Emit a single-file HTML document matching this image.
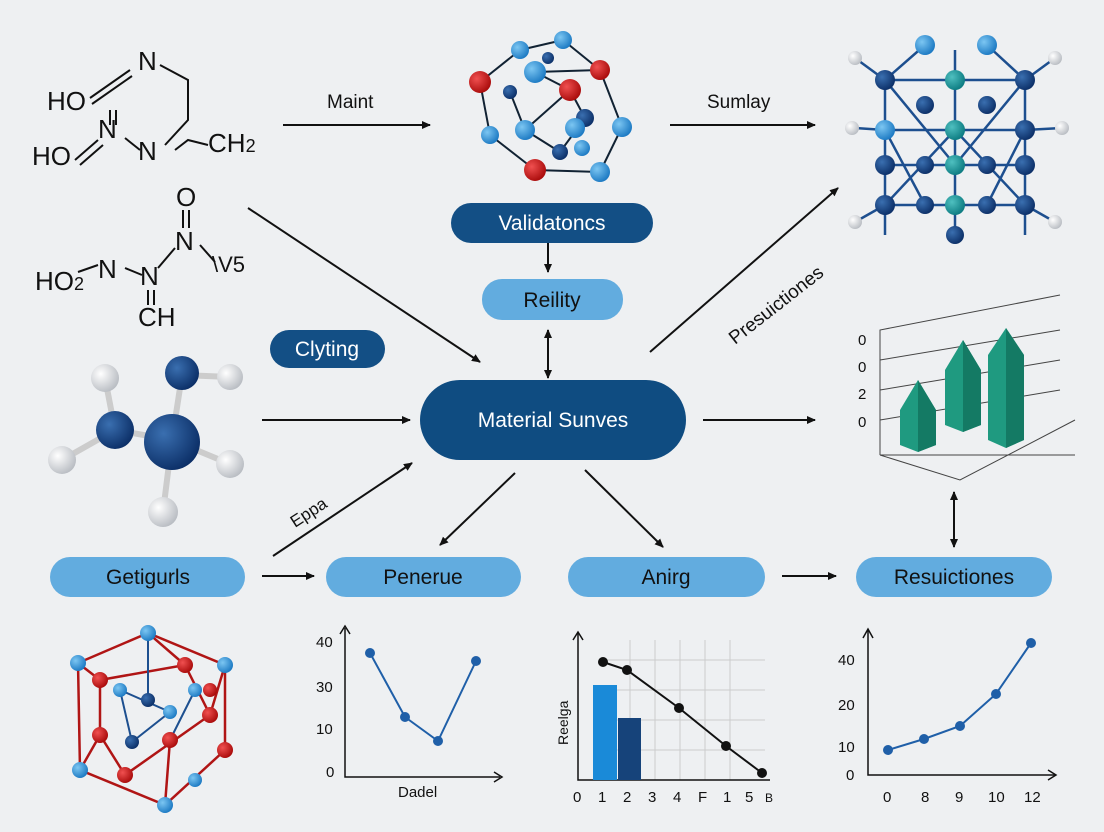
<!DOCTYPE html>
<html><head><meta charset="utf-8"><style>
html,body{margin:0;padding:0;width:1104px;height:832px;overflow:hidden;background:#eef0f2}
text{font-family:"Liberation Sans",sans-serif}
</style></head><body>
<svg width="1104" height="832" viewBox="0 0 1104 832" xmlns="http://www.w3.org/2000/svg">
<defs>
<radialGradient id="db" cx="35%" cy="35%" r="70%"><stop offset="0" stop-color="#3a6fb0"/><stop offset="1" stop-color="#0b2e66"/></radialGradient>
<radialGradient id="lb" cx="35%" cy="35%" r="70%"><stop offset="0" stop-color="#7cc6f2"/><stop offset="1" stop-color="#1a78c2"/></radialGradient>
<radialGradient id="rd" cx="35%" cy="35%" r="70%"><stop offset="0" stop-color="#f05050"/><stop offset="1" stop-color="#a80a0a"/></radialGradient>
<radialGradient id="wh" cx="35%" cy="35%" r="70%"><stop offset="0" stop-color="#ffffff"/><stop offset="1" stop-color="#b8bcc2"/></radialGradient>
<radialGradient id="tl" cx="35%" cy="35%" r="70%"><stop offset="0" stop-color="#4fc0c0"/><stop offset="1" stop-color="#0b7a80"/></radialGradient>
<marker id="ah" markerWidth="10" markerHeight="10" refX="8" refY="5" orient="auto" markerUnits="userSpaceOnUse"><path d="M0,1 L9,5 L0,9 z" fill="#111"/></marker>
<marker id="as" markerWidth="10" markerHeight="10" refX="2" refY="5" orient="auto" markerUnits="userSpaceOnUse"><path d="M10,1 L1,5 L10,9 z" fill="#111"/></marker>
</defs>
<rect width="1104" height="832" fill="#eef0f2"/>

<g stroke="#111" stroke-width="2" fill="none">
<path d="M90,98 L130,70 M92,104 L132,76"/>
<path d="M160,65 L188,80 L188,120 L165,145"/>
<path d="M110,110 L110,125 M116,110 L116,125"/>
<path d="M75,160 L98,140 M80,165 L103,145"/>
<path d="M125,138 L140,150"/>
<path d="M175,150 L188,140 L208,145"/>
<path d="M183,210 L183,228 M189,210 L189,228"/>
<path d="M175,248 L158,268"/>
<path d="M78,272 L98,265"/>
<path d="M125,268 L142,275"/>
<path d="M200,245 L215,262"/>
<path d="M148,290 L148,305 M154,290 L154,305"/>
</g>
<g font-size="26" fill="#111">
<text x="47" y="110">HO</text><text x="138" y="70">N</text><text x="98" y="138">N</text>
<text x="32" y="165">HO</text><text x="138" y="160">N</text><text x="208" y="152">CH<tspan font-size="18">2</tspan></text>
<text x="176" y="206">O</text><text x="175" y="250">N</text><text x="98" y="278">N</text>
<text x="35" y="290">HO<tspan font-size="18">2</tspan></text><text x="140" y="285">N</text>
<text x="212" y="272" font-size="22">\V5</text><text x="138" y="326">CH</text>
</g>

<g stroke="#ccc" stroke-width="6">
<line x1="115" y1="430" x2="172" y2="440"/><line x1="115" y1="430" x2="105" y2="378"/><line x1="115" y1="430" x2="62" y2="460"/>
<line x1="172" y1="440" x2="182" y2="375"/><line x1="172" y1="440" x2="230" y2="464"/><line x1="172" y1="440" x2="163" y2="512"/><line x1="182" y1="375" x2="230" y2="377"/>
</g>
<circle cx="105" cy="378" r="14" fill="url(#wh)"/><circle cx="62" cy="460" r="14" fill="url(#wh)"/><circle cx="230" cy="377" r="13" fill="url(#wh)"/><circle cx="230" cy="464" r="14" fill="url(#wh)"/><circle cx="163" cy="512" r="15" fill="url(#wh)"/>
<circle cx="115" cy="430" r="19" fill="url(#db)"/><circle cx="182" cy="373" r="17" fill="url(#db)"/><circle cx="172" cy="442" r="28" fill="url(#db)"/>

<g stroke="#123" stroke-width="2">
<line x1="480" y1="82" x2="520" y2="50"/><line x1="520" y1="50" x2="563" y2="40"/><line x1="563" y1="40" x2="600" y2="70"/><line x1="600" y1="70" x2="622" y2="127"/>
<line x1="480" y1="82" x2="490" y2="135"/><line x1="490" y1="135" x2="535" y2="170"/><line x1="535" y1="170" x2="600" y2="172"/><line x1="600" y1="172" x2="622" y2="127"/>
<line x1="535" y1="72" x2="570" y2="90"/><line x1="570" y1="90" x2="585" y2="118"/><line x1="525" y1="130" x2="570" y2="90"/><line x1="510" y1="92" x2="525" y2="130"/>
<line x1="535" y1="72" x2="600" y2="70"/><line x1="560" y1="152" x2="585" y2="118"/><line x1="525" y1="130" x2="560" y2="152"/></g>
<g>
<circle cx="520" cy="50" r="9" fill="url(#lb)"/><circle cx="563" cy="40" r="9" fill="url(#lb)"/><circle cx="600" cy="70" r="10" fill="url(#rd)"/><circle cx="622" cy="127" r="10" fill="url(#lb)"/>
<circle cx="480" cy="82" r="11" fill="url(#rd)"/><circle cx="490" cy="135" r="9" fill="url(#lb)"/><circle cx="535" cy="170" r="11" fill="url(#rd)"/><circle cx="600" cy="172" r="10" fill="url(#lb)"/>
<circle cx="535" cy="72" r="11" fill="url(#lb)"/><circle cx="570" cy="90" r="11" fill="url(#rd)"/><circle cx="585" cy="118" r="9" fill="url(#db)"/><circle cx="525" cy="130" r="10" fill="url(#lb)"/>
<circle cx="510" cy="92" r="7" fill="url(#db)"/><circle cx="560" cy="152" r="8" fill="url(#db)"/><circle cx="582" cy="148" r="8" fill="url(#lb)"/><circle cx="548" cy="58" r="6" fill="url(#db)"/><circle cx="575" cy="128" r="10" fill="url(#lb)"/>
</g>

<g stroke="#1d4f8f" stroke-width="2.5">
<line x1="885" y1="80" x2="1025" y2="80"/><line x1="885" y1="130" x2="1025" y2="130"/><line x1="885" y1="165" x2="1025" y2="165"/><line x1="885" y1="205" x2="1025" y2="205"/>
<line x1="885" y1="80" x2="885" y2="235"/><line x1="955" y1="50" x2="955" y2="235"/><line x1="1025" y1="80" x2="1025" y2="235"/>
<line x1="885" y1="80" x2="955" y2="165"/><line x1="1025" y1="80" x2="955" y2="165"/><line x1="885" y1="205" x2="955" y2="130"/><line x1="1025" y1="205" x2="955" y2="130"/>
<line x1="925" y1="45" x2="885" y2="80"/><line x1="987" y1="45" x2="1025" y2="80"/><line x1="885" y1="130" x2="925" y2="205"/><line x1="1025" y1="130" x2="987" y2="205"/>
<line x1="855" y1="58" x2="885" y2="80"/><line x1="1055" y1="58" x2="1025" y2="80"/><line x1="855" y1="128" x2="885" y2="130"/><line x1="1062" y1="128" x2="1025" y2="130"/><line x1="855" y1="222" x2="885" y2="205"/><line x1="1055" y1="222" x2="1025" y2="205"/>
</g>
<g>
<circle cx="855" cy="58" r="7" fill="url(#wh)"/><circle cx="1055" cy="58" r="7" fill="url(#wh)"/><circle cx="852" cy="128" r="7" fill="url(#wh)"/><circle cx="1062" cy="128" r="7" fill="url(#wh)"/><circle cx="855" cy="222" r="7" fill="url(#wh)"/><circle cx="1055" cy="222" r="7" fill="url(#wh)"/>
<circle cx="925" cy="45" r="10" fill="url(#lb)"/><circle cx="987" cy="45" r="10" fill="url(#lb)"/>
<circle cx="885" cy="80" r="10" fill="url(#db)"/><circle cx="955" cy="80" r="10" fill="url(#tl)"/><circle cx="1025" cy="80" r="10" fill="url(#db)"/>
<circle cx="885" cy="130" r="10" fill="url(#lb)"/><circle cx="925" cy="105" r="9" fill="url(#db)"/><circle cx="955" cy="130" r="10" fill="url(#tl)"/><circle cx="987" cy="105" r="9" fill="url(#db)"/><circle cx="1025" cy="130" r="10" fill="url(#db)"/>
<circle cx="885" cy="165" r="10" fill="url(#db)"/><circle cx="925" cy="165" r="9" fill="url(#db)"/><circle cx="955" cy="165" r="10" fill="url(#tl)"/><circle cx="987" cy="165" r="9" fill="url(#db)"/><circle cx="1025" cy="165" r="10" fill="url(#db)"/>
<circle cx="885" cy="205" r="10" fill="url(#db)"/><circle cx="925" cy="205" r="9" fill="url(#db)"/><circle cx="955" cy="205" r="10" fill="url(#tl)"/><circle cx="987" cy="205" r="9" fill="url(#db)"/><circle cx="1025" cy="205" r="10" fill="url(#db)"/>
<circle cx="955" cy="235" r="9" fill="url(#db)"/>
</g>

<g stroke="#111" stroke-width="2" fill="none" marker-end="url(#ah)">
<line x1="283" y1="125" x2="430" y2="125"/><line x1="670" y1="125" x2="815" y2="125"/>
<line x1="248" y1="208" x2="480" y2="362"/><line x1="262" y1="420" x2="410" y2="420"/><line x1="703" y1="420" x2="815" y2="420"/>
<line x1="650" y1="352" x2="838" y2="188"/><line x1="273" y1="556" x2="412" y2="463"/>
<line x1="515" y1="473" x2="440" y2="545"/><line x1="585" y1="470" x2="663" y2="547"/>
<line x1="262" y1="576" x2="314" y2="576"/><line x1="782" y1="576" x2="836" y2="576"/>
<line x1="548" y1="243" x2="548" y2="272"/>
<line x1="548" y1="330" x2="548" y2="378" marker-start="url(#as)"/>
<line x1="954" y1="492" x2="954" y2="547" marker-start="url(#as)"/>
</g>
<g font-size="19" fill="#111">
<text x="327" y="108">Maint</text><text x="707" y="108">Sumlay</text>
<text transform="translate(735,345) rotate(-38)">Presuictiones</text>
<text transform="translate(295,528) rotate(-33)" font-size="17">Eppa</text>
</g>

<rect x="420" y="380" width="266" height="80" rx="40" fill="#0f4c81"/>
<text x="553" y="427" font-size="21" fill="#fff" text-anchor="middle">Material Sunves</text>
<rect x="451" y="203" width="202" height="40" rx="20" fill="#134f85"/>
<text x="552" y="230" font-size="21" fill="#fff" text-anchor="middle">Validatoncs</text>
<rect x="482" y="279" width="141" height="41" rx="20" fill="#62acdf"/>
<text x="552" y="307" font-size="21" fill="#111" text-anchor="middle">Reility</text>
<rect x="270" y="330" width="115" height="38" rx="19" fill="#134f85"/>
<text x="327" y="356" font-size="21" fill="#fff" text-anchor="middle">Clyting</text>
<g fill="#62acdf"><rect x="50" y="557" width="195" height="40" rx="20"/><rect x="326" y="557" width="195" height="40" rx="20"/><rect x="568" y="557" width="197" height="40" rx="20"/><rect x="856" y="557" width="196" height="40" rx="20"/></g>
<g font-size="21" fill="#111" text-anchor="middle"><text x="148" y="584">Getigurls</text><text x="423" y="584">Penerue</text><text x="666" y="584">Anirg</text><text x="954" y="584">Resuictiones</text></g>

<g stroke="#444" stroke-width="1" fill="none">
<path d="M880,455 L880,330 L1060,295 M880,455 L1075,455 M880,455 L960,480 L1075,420 M880,360 L1060,330 M880,390 L1060,360 M880,420 L1060,390"/>
</g>
<g font-size="15" fill="#111"><text x="858" y="345">0</text><text x="858" y="372">0</text><text x="858" y="399">2</text><text x="858" y="427">0</text></g>
<g>
<polygon points="900,410 918,380 936,410 936,445 918,452 900,445" fill="#1f9a80"/><polygon points="918,380 936,410 936,445 918,452" fill="#147a64"/>
<polygon points="945,370 963,340 981,370 981,425 963,432 945,425" fill="#1f9a80"/><polygon points="963,340 981,370 981,425 963,432" fill="#147a64"/>
<polygon points="988,355 1006,328 1024,355 1024,440 1006,448 988,440" fill="#1f9a80"/><polygon points="1006,328 1024,355 1024,440 1006,448" fill="#147a64"/>
</g>

<g stroke="#b01515" stroke-width="2.5" fill="none">
<path d="M78,663 L148,633 L225,665 L225,750 L165,805 L80,770 Z"/><path d="M100,680 L185,665 L210,715 L125,775 L100,735 Z"/><path d="M148,633 L185,665 M78,663 L100,680 M225,665 L210,715 M165,805 L170,740 M80,770 L100,735"/>
</g>
<g stroke="#1d4f8f" stroke-width="2" fill="none"><path d="M120,690 L170,712 L132,742 L120,690 M148,633 L148,700 M195,690 L170,740"/></g>
<g>
<circle cx="148" cy="633" r="8" fill="url(#lb)"/><circle cx="78" cy="663" r="8" fill="url(#lb)"/><circle cx="225" cy="665" r="8" fill="url(#lb)"/><circle cx="225" cy="750" r="8" fill="url(#rd)"/><circle cx="165" cy="805" r="8" fill="url(#lb)"/><circle cx="80" cy="770" r="8" fill="url(#lb)"/>
<circle cx="100" cy="680" r="8" fill="url(#rd)"/><circle cx="185" cy="665" r="8" fill="url(#rd)"/><circle cx="210" cy="715" r="8" fill="url(#rd)"/><circle cx="125" cy="775" r="8" fill="url(#rd)"/><circle cx="100" cy="735" r="8" fill="url(#rd)"/>
<circle cx="120" cy="690" r="7" fill="url(#lb)"/><circle cx="170" cy="712" r="7" fill="url(#lb)"/><circle cx="132" cy="742" r="7" fill="url(#db)"/><circle cx="170" cy="740" r="8" fill="url(#rd)"/><circle cx="195" cy="690" r="7" fill="url(#lb)"/><circle cx="148" cy="700" r="7" fill="url(#db)"/><circle cx="195" cy="780" r="7" fill="url(#lb)"/><circle cx="210" cy="690" r="7" fill="url(#rd)"/>
</g>

<g stroke="#111" stroke-width="1.5" fill="none"><path d="M345,628 L345,777 L500,777"/><path d="M340,634 L345,626 L350,634"/><path d="M494,772 L502,777 L494,782"/></g>
<g font-size="15" fill="#111"><text x="316" y="647">40</text><text x="316" y="692">30</text><text x="316" y="734">10</text><text x="326" y="777">0</text><text x="398" y="797">Dadel</text></g>
<polyline points="370,653 405,717 438,741 476,661" fill="none" stroke="#1f5fa8" stroke-width="2"/>
<g fill="#1f5fa8"><circle cx="370" cy="653" r="5"/><circle cx="405" cy="717" r="5"/><circle cx="438" cy="741" r="5"/><circle cx="476" cy="661" r="5"/></g>

<g stroke="#ccc" stroke-width="1"><path d="M602,660 L765,660 M602,690 L765,690 M602,720 L765,720 M602,750 L765,750 M630,640 L630,780 M655,640 L655,780 M680,640 L680,780 M705,640 L705,780 M730,640 L730,780"/></g>
<g stroke="#111" stroke-width="1.5" fill="none"><path d="M578,633 L578,780 L770,780"/><path d="M573,640 L578,632 L583,640"/></g>
<rect x="593" y="685" width="24" height="95" fill="#1a8ad8"/><rect x="618" y="718" width="23" height="62" fill="#16437a"/>
<polyline points="603,662 627,670 679,708 726,746 762,773" fill="none" stroke="#111" stroke-width="2"/>
<g fill="#111"><circle cx="603" cy="662" r="5"/><circle cx="627" cy="670" r="5"/><circle cx="679" cy="708" r="5"/><circle cx="726" cy="746" r="5"/><circle cx="762" cy="773" r="5"/></g>
<text transform="translate(568,745) rotate(-90)" font-size="14" fill="#111">Reelga</text>
<g font-size="15" fill="#111"><text x="573" y="802">0</text><text x="598" y="802">1</text><text x="623" y="802">2</text><text x="648" y="802">3</text><text x="673" y="802">4</text><text x="698" y="802">F</text><text x="723" y="802">1</text><text x="745" y="802">5</text><text x="765" y="802" font-size="12">B</text></g>

<g stroke="#111" stroke-width="1.5" fill="none"><path d="M868,630 L868,775 L1055,775"/><path d="M863,638 L868,629 L873,638"/><path d="M1048,770 L1056,775 L1048,780"/></g>
<g font-size="15" fill="#111"><text x="838" y="665">40</text><text x="838" y="710">20</text><text x="838" y="752">10</text><text x="846" y="780">0</text>
<text x="883" y="802">0</text><text x="921" y="802">8</text><text x="955" y="802">9</text><text x="988" y="802">10</text><text x="1024" y="802">12</text></g>
<polyline points="888,750 924,739 960,726 996,694 1031,643" fill="none" stroke="#1f5fa8" stroke-width="2"/>
<g fill="#1f5fa8"><circle cx="888" cy="750" r="5"/><circle cx="924" cy="739" r="5"/><circle cx="960" cy="726" r="5"/><circle cx="996" cy="694" r="5"/><circle cx="1031" cy="643" r="5"/></g>
</svg>
</body></html>
